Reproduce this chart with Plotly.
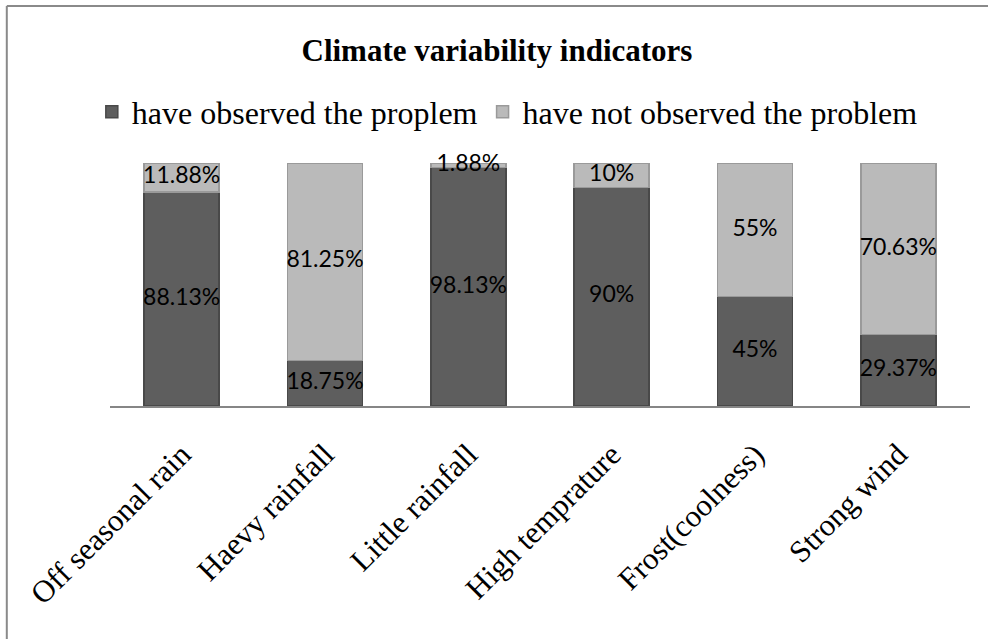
import plotly.graph_objects as go

# Survey results per climate variability indicator (percent of respondents)
categories = ["Off seasonal rain", "Haevy rainfall", "Little rainfall",
              "High temprature", "Frost(coolness)", "Strong wind"]
observed = [88.13, 18.75, 98.13, 90, 45, 29.37]
not_observed = [11.88, 81.25, 1.88, 10, 55, 70.63]
observed_labels = ["88.13%", "18.75%", "98.13%", "90%", "45%", "29.37%"]
not_observed_labels = ["11.88%", "81.25%", "1.88%", "10%", "55%", "70.63%"]

serif = "Liberation Serif, Times New Roman, serif"
label_font = dict(family="Lato, Carlito, Calibri, sans-serif", size=23, color="#000000")

fig = go.Figure()
fig.add_trace(go.Bar(
    name="have observed the proplem",
    x=categories, y=observed,
    marker=dict(color="#5e5e5e", line=dict(color="#494949", width=1.5)),
))
fig.add_trace(go.Bar(
    name="have not observed the problem",
    x=categories, y=not_observed,
    marker=dict(color="#bababa", line=dict(color="#9a9a9a", width=1.5)),
))

# Segment labels centred on each stacked segment
obs_mid = [v / 2 for v in observed]
not_mid = [o + n / 2 for o, n in zip(observed, not_observed)]
fig.add_trace(go.Scatter(
    x=categories, y=obs_mid, mode="text", text=observed_labels,
    textfont=label_font, showlegend=False, hoverinfo="skip", cliponaxis=False,
))
fig.add_trace(go.Scatter(
    x=categories, y=not_mid, mode="text", text=not_observed_labels,
    textfont=label_font, showlegend=False, hoverinfo="skip", cliponaxis=False,
))

fig.update_layout(
    barmode="stack",
    bargap=0.477,
    width=988, height=639,
    margin=dict(l=110, r=18, t=163, b=233),
    paper_bgcolor="#ffffff",
    plot_bgcolor="#ffffff",
    title=dict(text="<b>Climate variability indicators</b>",
               x=0.503, xanchor="center", y=0.922, yanchor="middle",
               font=dict(family=serif, size=31, color="#000000")),
    legend=dict(orientation="h", traceorder="normal",
                x=0.462, xanchor="center", y=1.21, yanchor="middle",
                font=dict(family=serif, size=32, color="#000000"),
                itemwidth=30, bgcolor="rgba(0,0,0,0)"),
    xaxis=dict(showline=True, linecolor="#868686", linewidth=2,
               ticks="", tickangle=-45, ticklabelstandoff=16,
               tickfont=dict(family=serif, size=31, color="#000000")),
    yaxis=dict(range=[0, 100], visible=False, showgrid=False),
    shapes=[
        # chart frame (top and left edges)
        dict(type="line", xref="paper", yref="paper",
             x0=-0.12, x1=1.05, y0=1.646, y1=1.646,
             line=dict(color="#8a8a8a", width=2)),
        dict(type="line", xref="paper", yref="paper",
             x0=-0.12, x1=-0.12, y0=1.646, y1=-1.0,
             line=dict(color="#8a8a8a", width=2)),
    ],
)

fig.write_html("out.html")
